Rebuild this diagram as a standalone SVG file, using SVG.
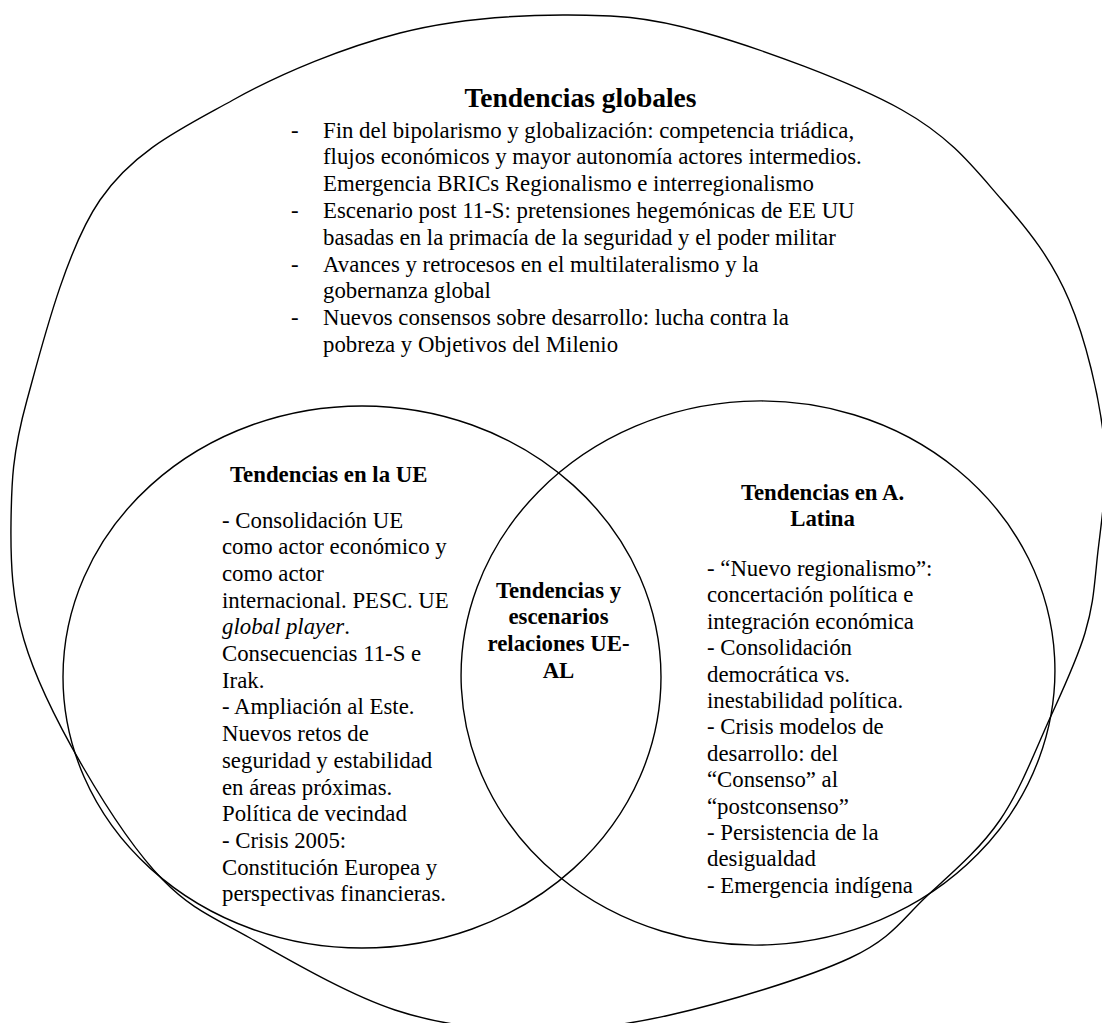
<svg xmlns="http://www.w3.org/2000/svg" width="1102" height="1023" viewBox="0 0 1102 1023">
<style>
.shape{fill:none;stroke:#000;stroke-width:1.4}
.t{font-size:22.8px;fill:#000}
.b{font-weight:bold}
.h{font-weight:bold;font-size:27.5px}
.c{text-anchor:middle}
.i{font-style:italic}
</style>
<rect width="1102" height="1023" fill="#fff"/>
<g id="global" font-family="Liberation Serif">
<path class="shape" d="M563,15 C613.3,14.8 645.5,16.2 702,32 C758.5,47.8 852,82 902,110 C952,138 974.2,168.3 1002,200 C1029.8,231.7 1052,260 1069,300 C1086,340 1099.3,396.7 1104,440 C1108.7,483.3 1100.2,527.8 1097,560 C1093.8,592.2 1092.8,606.7 1085,633 C1077.2,659.3 1064.2,686.8 1050,718 C1035.8,749.2 1020.3,790.5 1000,820 C979.7,849.5 953,872 928,895 C903,918 893,938 850,958 C807,978 723.3,1003 670,1015 C616.7,1027 575.8,1030.8 530,1030 C484.2,1029.2 441.7,1025.3 395,1010 C348.3,994.7 288.7,959.7 250,938 C211.3,916.3 190.8,908.5 163,880 C135.2,851.5 106.2,807 83,767 C59.8,727 36,680.7 24,640 C12,599.3 10.5,563 11,523 C11.5,483 12.2,453.8 27,400 C41.8,346.2 65.7,250 100,200 C134.3,150 183,127.8 233,100 C283,72.2 345,47.2 400,33 C455,18.8 512.7,15.2 563,15 Z"/>
<text class="h c" x="580.5" y="107">Tendencias globales</text>
<text class="t" x="291" y="137.5">-</text>
<text class="t" x="323" y="137.5">Fin del bipolarismo y globalización: competencia triádica,</text>
<text class="t" x="323" y="164.3">flujos económicos y mayor autonomía actores intermedios.</text>
<text class="t" x="323" y="191.1">Emergencia BRICs Regionalismo e interregionalismo</text>
<text class="t" x="291" y="217.9">-</text>
<text class="t" x="323" y="217.9">Escenario post 11-S: pretensiones hegemónicas de EE UU</text>
<text class="t" x="323" y="244.7">basadas en la primacía de la seguridad y el poder militar</text>
<text class="t" x="291" y="271.5">-</text>
<text class="t" x="323" y="271.5">Avances y retrocesos en el multilateralismo y la</text>
<text class="t" x="323" y="298.3">gobernanza global</text>
<text class="t" x="291" y="325.1">-</text>
<text class="t" x="323" y="325.1">Nuevos consensos sobre desarrollo: lucha contra la</text>
<text class="t" x="323" y="351.9">pobreza y Objetivos del Milenio</text>
</g>
<g id="ue" font-family="Liberation Serif">
<ellipse class="shape" cx="362" cy="677" rx="299" ry="271"/>
<text class="t b" x="230" y="482">Tendencias en la UE</text>
<text class="t" x="222" y="527.5">- Consolidación UE</text>
<text class="t" x="222" y="554.2">como actor económico y</text>
<text class="t" x="222" y="580.9">como actor</text>
<text class="t" x="222" y="607.6">internacional. PESC. UE</text>
<text class="t" x="222" y="634.3"><tspan class="i">global player</tspan>.</text>
<text class="t" x="222" y="661">Consecuencias 11-S e</text>
<text class="t" x="222" y="687.7">Irak.</text>
<text class="t" x="222" y="714.4">- Ampliación al Este.</text>
<text class="t" x="222" y="741.1">Nuevos retos de</text>
<text class="t" x="222" y="767.8">seguridad y estabilidad</text>
<text class="t" x="222" y="794.5">en áreas próximas.</text>
<text class="t" x="222" y="821.2">Política de vecindad</text>
<text class="t" x="222" y="847.9">- Crisis 2005:</text>
<text class="t" x="222" y="874.6">Constitución Europea y</text>
<text class="t" x="222" y="901.3">perspectivas financieras.</text>
</g>
<g id="al" font-family="Liberation Serif">
<ellipse class="shape" cx="758" cy="673" rx="297" ry="272" transform="rotate(-3 758 673)"/>
<text class="t b c" x="822.5" y="499.5">Tendencias en A.</text>
<text class="t b c" x="822.5" y="526">Latina</text>
<text class="t" x="707" y="576">- “Nuevo regionalismo”:</text>
<text class="t" x="707" y="602.4">concertación política e</text>
<text class="t" x="707" y="628.8">integración económica</text>
<text class="t" x="707" y="655.2">- Consolidación</text>
<text class="t" x="707" y="681.6">democrática vs.</text>
<text class="t" x="707" y="708">inestabilidad política.</text>
<text class="t" x="707" y="734.4">- Crisis modelos de</text>
<text class="t" x="707" y="760.8">desarrollo: del</text>
<text class="t" x="707" y="787.2">“Consenso” al</text>
<text class="t" x="707" y="813.6">“postconsenso”</text>
<text class="t" x="707" y="840">- Persistencia de la</text>
<text class="t" x="707" y="866.4">desigualdad</text>
<text class="t" x="707" y="892.8">- Emergencia indígena</text>
</g>
<g id="ue-al" font-family="Liberation Serif">
<text class="t b c" x="558.5" y="597.5">Tendencias y</text>
<text class="t b c" x="558.5" y="624.4">escenarios</text>
<text class="t b c" x="558.5" y="651.3">relaciones UE-</text>
<text class="t b c" x="558.5" y="678.2">AL</text>
</g>
</svg>
